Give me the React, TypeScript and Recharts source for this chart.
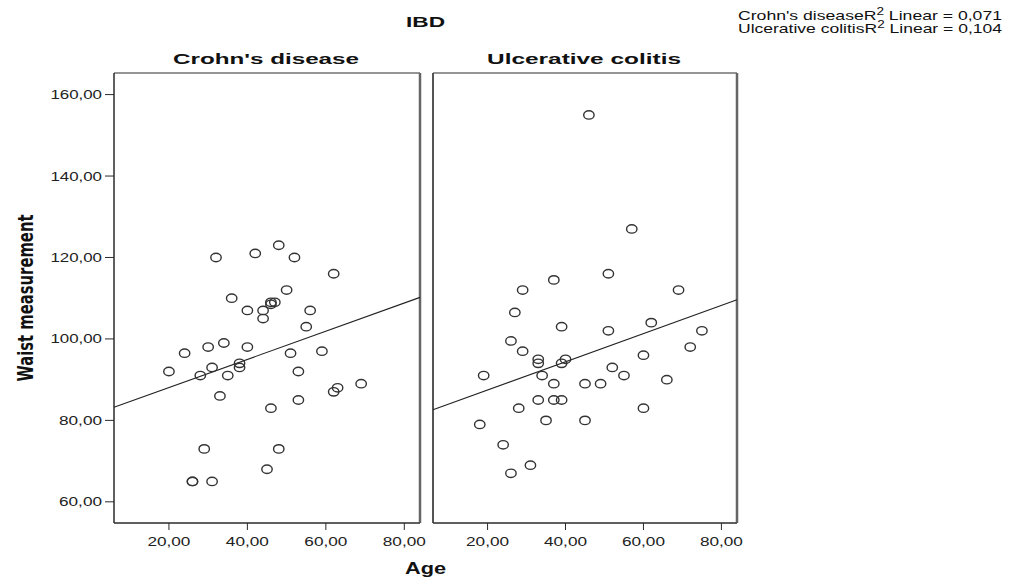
import { ReferenceArea, ReferenceLine, Scatter, ScatterChart, XAxis, YAxis } from "recharts";

const ageTicks = [20, 40, 60, 80];
const waistTicks = [60, 80, 100, 120, 140, 160];
const ageDomain = [6, 84];
const waistDomain = [54.8, 165.3];

const crohnAge = [32, 42, 48, 52, 62, 50, 36, 46, 47, 46, 40, 44, 44, 56, 55, 34, 30, 40, 24, 51, 59, 20, 38, 38, 31, 28, 35, 53, 63, 62, 69, 33, 53, 46, 29, 48, 45, 26, 26, 31];
const crohnWaist = [120, 121, 123, 120, 116, 112, 110, 109, 109, 108.5, 107, 107, 105, 107, 103, 99, 98, 98, 96.5, 96.5, 97, 92, 94, 93, 93, 91, 91, 92, 88, 87, 89, 86, 85, 83, 73, 73, 68, 65, 65, 65];

const colitisAge = [46, 57, 51, 37, 29, 69, 27, 39, 51, 62, 75, 26, 29, 33, 33, 39, 40, 72, 60, 19, 34, 52, 55, 66, 37, 45, 49, 33, 37, 39, 28, 60, 35, 45, 18, 24, 31, 26];
const colitisWaist = [155, 127, 116, 114.5, 112, 112, 106.5, 103, 102, 104, 102, 99.5, 97, 95, 94, 94, 95, 98, 96, 91, 91, 93, 91, 90, 89, 89, 89, 85, 85, 85, 83, 83, 80, 80, 79, 74, 69, 67];

// fit line: waist at the two ends of the age axis
const crohnFit = [83.2, 110.2];
const colitisFit = [82.6, 109.6];

const fmt = (v: number) => v.toFixed(2).replace(".", ",");
const zip = (xs: number[], ys: number[]) => xs.map((x, i) => ({ x, y: ys[i] }));

const font = "Liberation Sans, Arial, sans-serif";
const ink = "#2a2a2a";

// SPSS draws its labels wide, so stretch the glyphs to the measured width
const XTick = (props: any) => {
  const label = fmt(props.payload.value);
  return (
    <text x={props.x} y={props.y} dy={9} textAnchor="middle" fontSize={12.5} fontFamily={font} fill="#222" textLength={label.length * 8.6} lengthAdjust="spacingAndGlyphs">
      {label}
    </text>
  );
};

const YTick = (props: any) => {
  const label = fmt(props.payload.value);
  return (
    <text x={props.x - 1} y={props.y} dy={4.5} textAnchor="end" fontSize={12.5} fontFamily={font} fill="#222" textLength={label.length * 8.6} lengthAdjust="spacingAndGlyphs">
      {label}
    </text>
  );
};

const Ring = (props: any) => (
  <ellipse cx={props.cx} cy={props.cy} rx={5.2} ry={4.2} fill="none" stroke="#333" strokeWidth={1.4} />
);

type PanelProps = {
  ages: number[];
  waists: number[];
  fit: number[];
  width: number;
  margin: { top: number; right: number; bottom: number; left: number };
  showY: boolean;
};

function Panel({ ages, waists, fit, width, margin, showY }: PanelProps) {
  return (
    <ScatterChart width={width} height={581} margin={margin}>
      <XAxis
        type="number"
        dataKey="x"
        domain={ageDomain}
        ticks={ageTicks}
        allowDataOverflow
        tick={XTick}
        tickSize={7}
        tickMargin={7}
        height={58}
        stroke={ink}
        axisLine={{ stroke: ink }}
        tickLine={{ stroke: ink }}
      />
      <YAxis
        type="number"
        dataKey="y"
        domain={waistDomain}
        ticks={waistTicks}
        allowDataOverflow
        tick={YTick}
        tickSize={9}
        tickMargin={2}
        width={60}
        hide={!showY}
        stroke={ink}
        axisLine={{ stroke: ink }}
        tickLine={{ stroke: ink }}
      />
      <ReferenceArea x1={ageDomain[0]} x2={ageDomain[1]} y1={waistDomain[0]} y2={waistDomain[1]} fill="none" stroke={ink} strokeWidth={1} />
      <ReferenceLine x={ageDomain[1]} stroke="#666" strokeWidth={2.5} />
      {!showY && <ReferenceLine x={ageDomain[0]} stroke="#555" strokeWidth={2} />}
      <ReferenceLine
        segment={[
          { x: ageDomain[0], y: fit[0] },
          { x: ageDomain[1], y: fit[1] },
        ]}
        stroke="#222"
        strokeWidth={1.1}
      />
      <Scatter data={zip(ages, waists)} shape={Ring} isAnimationActive={false} />
    </ScatterChart>
  );
}

export default function App() {
  const bold = { fontFamily: font, fontWeight: 700, fill: "#111" };
  const plain = { fontFamily: font, fill: "#111", fontSize: 13 };
  return (
    <div style={{ position: "fixed", left: 0, top: 0, width: 1009, height: 581, background: "#fff", overflow: "hidden" }}>
      <div style={{ position: "absolute", left: 0, top: 0 }}>
        <Panel ages={crohnAge} waists={crohnWaist} fit={crohnFit} width={430} margin={{ top: 73, right: 10, bottom: 0, left: 54 }} showY />
      </div>
      <div style={{ position: "absolute", left: 423, top: 0 }}>
        <Panel ages={colitisAge} waists={colitisWaist} fit={colitisFit} width={330} margin={{ top: 73, right: 16, bottom: 0, left: 10 }} showY={false} />
      </div>
      <svg width={1009} height={581} style={{ position: "absolute", left: 0, top: 0, pointerEvents: "none" }}>
        <text x={425.5} y={27} textAnchor="middle" fontSize={15.5} textLength={39} lengthAdjust="spacingAndGlyphs" {...bold}>IBD</text>
        <text x={266} y={63.5} textAnchor="middle" fontSize={15.5} textLength={186} lengthAdjust="spacingAndGlyphs" {...bold}>Crohn's disease</text>
        <text x={584} y={63.5} textAnchor="middle" fontSize={15.5} textLength={194} lengthAdjust="spacingAndGlyphs" {...bold}>Ulcerative colitis</text>
        <text x={425.5} y={574} textAnchor="middle" fontSize={16} textLength={41} lengthAdjust="spacingAndGlyphs" {...bold}>Age</text>
        <text
          x={0}
          y={0}
          transform="translate(33 298) rotate(-90)"
          textAnchor="middle"
          fontSize={21}
          fontWeight={700}
          fontFamily="Liberation Sans Narrow, DejaVu Sans Condensed, Arial Narrow, sans-serif"
          fill="#111"
          textLength={167}
          lengthAdjust="spacingAndGlyphs"
        >
          Waist measurement
        </text>
        <text x={738} y={20} textLength={264} lengthAdjust="spacingAndGlyphs" {...plain}>
          Crohn's diseaseR<tspan dy={-5} fontSize={10}>2</tspan>
          <tspan dy={5}> Linear = 0,071</tspan>
        </text>
        <text x={738} y={33} textLength={264} lengthAdjust="spacingAndGlyphs" {...plain}>
          Ulcerative colitisR<tspan dy={-5} fontSize={10}>2</tspan>
          <tspan dy={5}> Linear = 0,104</tspan>
        </text>
      </svg>
    </div>
  );
}
